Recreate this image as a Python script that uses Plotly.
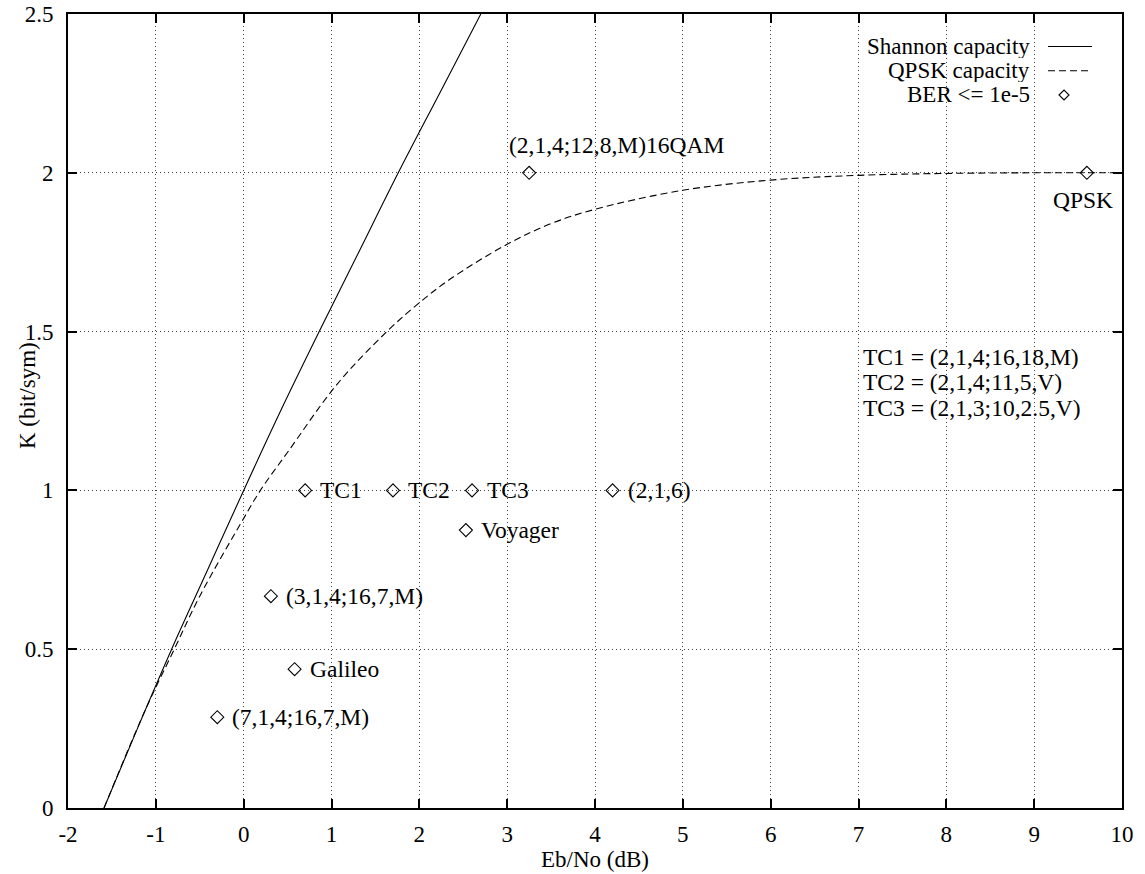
import plotly.graph_objects as go

# Shannon capacity curve
shannon_ebno = [-1.59, -1.21, -0.82, -0.41, 0.0, 0.42, 0.86, 1.31, 1.76, 2.23, 2.70]
shannon_k = [0.0, 0.25, 0.5, 0.75, 1.0, 1.25, 1.5, 1.75, 2.0, 2.25, 2.5]

# QPSK capacity curve
qpsk_ebno = [-1.59, -1.29, -1.08, -0.79, -0.50, 0.0, 0.19, 0.5, 1.06, 1.63, 2.04, 2.36,
             3.0, 3.5, 4.0, 5.0, 6.0, 7.0, 8.0, 9.0, 10.0]
qpsk_k = [0.0, 0.2, 0.333, 0.5, 0.667, 0.912, 1.0, 1.12, 1.333, 1.5, 1.6, 1.667,
          1.775, 1.84, 1.885, 1.945, 1.977, 1.992, 1.998, 2.0, 2.0]

# BER <= 1e-5 points
pt_ebno = [0.7, 1.7, 2.6, 4.2, 2.53, 0.31, 0.58, -0.30, 3.25, 9.6]
pt_k = [1.0, 1.0, 1.0, 1.0, 0.875, 0.667, 0.437, 0.286, 2.0, 2.0]
pt_labels = ["TC1", "TC2", "TC3", "(2,1,6)", "Voyager", "(3,1,4;16,7,M)",
             "Galileo", "(7,1,4;16,7,M)", "(2,1,4;12,8,M)16QAM", "QPSK"]

tc_notes = ["TC1 = (2,1,4;16,18,M)", "TC2 = (2,1,4;11,5,V)", "TC3 = (2,1,3;10,2.5,V)"]
tc_note_y = [1.42, 1.34, 1.26]

legend_names = ["Shannon capacity", "QPSK capacity", "BER <= 1e-5"]

x_ticks = list(range(-2, 11))
y_ticks = [0, 0.5, 1, 1.5, 2, 2.5]

FONT = "Liberation Serif, Times New Roman, serif"
FS = 23
FT = 23.5

fig = go.Figure()
fig.add_trace(go.Scatter(x=shannon_ebno, y=shannon_k, mode="lines", name=legend_names[0],
                         line=dict(color="black", width=1.1, shape="spline", smoothing=1.0),
                         showlegend=False))
fig.add_trace(go.Scatter(x=qpsk_ebno, y=qpsk_k, mode="lines", name=legend_names[1],
                         line=dict(color="black", width=1.1, dash="7px,4px", shape="spline", smoothing=1.0),
                         showlegend=False))
fig.add_trace(go.Scatter(x=pt_ebno, y=pt_k, mode="markers", name=legend_names[2],
                         marker=dict(symbol="diamond-open", size=10, color="black",
                                     line=dict(width=1.1, color="black")),
                         showlegend=False))

annotations = []
for x, y, t in zip(pt_ebno, pt_k, pt_labels):
    if t.endswith("16QAM"):
        a = dict(xanchor="left", yanchor="middle", xshift=-22, yshift=28)
    elif t == "QPSK":
        a = dict(xanchor="center", yanchor="middle", xshift=-4, yshift=-27)
    else:
        a = dict(xanchor="left", yanchor="middle", xshift=13, yshift=0)
    annotations.append(dict(x=x, y=y, xref="x", yref="y", text=t, showarrow=False,
                            font=dict(family=FONT, size=FT, color="black"), **a))

for t, y in zip(tc_notes, tc_note_y):
    annotations.append(dict(x=7.03, y=y, xref="x", yref="y", text=t, showarrow=False,
                            xanchor="left", yanchor="middle", height=24,
                            font=dict(family=FONT, size=FT, color="black")))

# gnuplot-style key (text right-aligned, sample to the right)
key_y = [0.9591, 0.9285, 0.8980]
for t, ky in zip(legend_names, key_y):
    annotations.append(dict(x=0.9146, y=ky, xref="paper", yref="paper", text=t, showarrow=False,
                            xanchor="right", yanchor="middle", height=23,
                            font=dict(family=FONT, size=23, color="black")))

# y-axis title placed like gnuplot (overlapping tick-label column)
annotations.append(dict(x=-0.039, y=0.52, xref="paper", yref="paper", text="K (bit/sym)",
                        showarrow=False, textangle=-90, xanchor="center", yanchor="middle",
                        font=dict(family=FONT, size=FS, color="black")))

shapes = [
    dict(type="line", xref="paper", yref="paper", x0=0.9298, x1=0.9715, y0=key_y[0], y1=key_y[0],
         line=dict(color="black", width=1.1)),
    dict(type="line", xref="paper", yref="paper", x0=0.9298, x1=0.9715, y0=key_y[1], y1=key_y[1],
         line=dict(color="black", width=1.1, dash="7px,4px")),
    dict(type="path", xref="paper", yref="paper", xsizemode="pixel", ysizemode="pixel",
         xanchor=0.945, yanchor=key_y[2], path="M -5 0 L 0 5 L 5 0 L 0 -5 Z",
         line=dict(color="black", width=1.1)),
]

axis_common = dict(
    showline=True, linecolor="black", linewidth=2, mirror="ticks",
    ticks="inside", ticklen=9, tickwidth=2, tickcolor="black",
    showgrid=True, gridcolor="#444444", griddash="1px,3px", gridwidth=1,
    zeroline=False, automargin=False, ticklabeloverflow="allow",
    tickfont=dict(family=FONT, size=FS, color="black"),
    title_font=dict(family=FONT, size=FS, color="black"),
)

fig.update_layout(
    width=1145, height=874,
    paper_bgcolor="white", plot_bgcolor="white",
    margin=dict(l=68, r=23, t=14, b=66),
    xaxis=dict(range=[-2, 10], tickvals=x_ticks, ticktext=[str(v) for v in x_ticks],
               title=dict(text="Eb/No (dB)", standoff=0), ticklabelstandoff=4, **axis_common),
    yaxis=dict(range=[0, 2.5], tickvals=y_ticks, ticktext=["0", "0.5", "1", "1.5", "2", "2.5"],
               ticklabelstandoff=8, **axis_common),
    annotations=annotations,
    shapes=shapes,
    showlegend=False,
)

# remove the page's default 8px body margin so the figure fills the window exactly
fig.write_html("out.html",
               config={"displayModeBar": False},
               post_script="document.body.style.margin='0';document.body.style.overflow='hidden';")
